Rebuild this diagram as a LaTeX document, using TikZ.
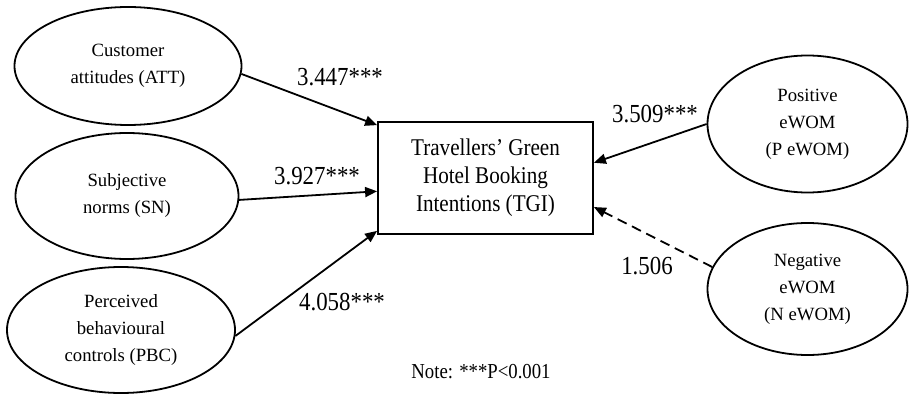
\documentclass[tikz,border=0pt]{standalone}
\usepackage{fontspec}
\setmainfont{Liberation Serif}
\newfontfamily\narrowserif[FakeStretch=0.88]{Liberation Serif}
\usetikzlibrary{shapes.geometric,arrows.meta}

\begin{document}
\begin{tikzpicture}[x=1pt,y=-1pt,
    latent/.style={ellipse, draw, line width=1.8pt, inner sep=0pt, align=center, font=\fontsize{18.7}{27}\selectfont},
    construct/.style={rectangle, draw, line width=1.8pt, inner sep=0pt, align=center, minimum width=215pt, minimum height=112pt, font=\narrowserif\fontsize{24}{28}\selectfont},
    coef/.style={inner sep=0pt, font=\narrowserif\fontsize{26}{30}\selectfont},
    link/.style={line width=1.8pt, -{Triangle[length=12pt,width=10pt]}}]
            \useasboundingbox (0,0) rectangle (909,395);

            \node[latent, minimum width=227pt, minimum height=118pt] (att) at (128,66) {Customer\\attitudes (ATT)};
            \node[latent, minimum width=223pt, minimum height=126pt] (sn) at (127,196) {Subjective\\norms (SN)};
            \node[latent, minimum width=228pt, minimum height=126pt] (pbc) at (121,330) {Perceived\\behavioural\\controls (PBC)};

            \node[construct] (tgi) at (485.5,178) {Travellers’ Green\\Hotel Booking\\Intentions (TGI)};

            \node[latent, minimum width=200pt, minimum height=137pt] (pe) at (807.5,124) {Positive\\eWOM\\(P eWOM)};
            \node[latent, minimum width=200pt, minimum height=132pt] (ne) at (807.5,289) {Negative\\eWOM\\(N eWOM)};

            \draw[link] (att.-4.5) -- (tgi.154);
            \draw[link] (sn.-2) -- (tgi.187.4);
            \draw[link] (pbc.-3.5) -- (tgi.206.7);
            \draw[link] (pe.west) -- (tgi.8);
            \draw[link, dash pattern=on 10pt off 6pt] (ne.167) -- (tgi.345);

            \node[coef] (batt) at (340,77) {3.447***};
            \node[coef] (bsn) at (317,176) {3.927***};
            \node[coef] (bpbc) at (342,302) {4.058***};
            \node[coef] (bpe) at (655,114) {3.509***};
            \node[coef] (bne) at (647,266) {1.506};

            \node[font=\narrowserif\fontsize{21.3}{24}\selectfont] (note) at (481,372) {Note: ***P<0.001};
        \end{tikzpicture}
\end{document}
